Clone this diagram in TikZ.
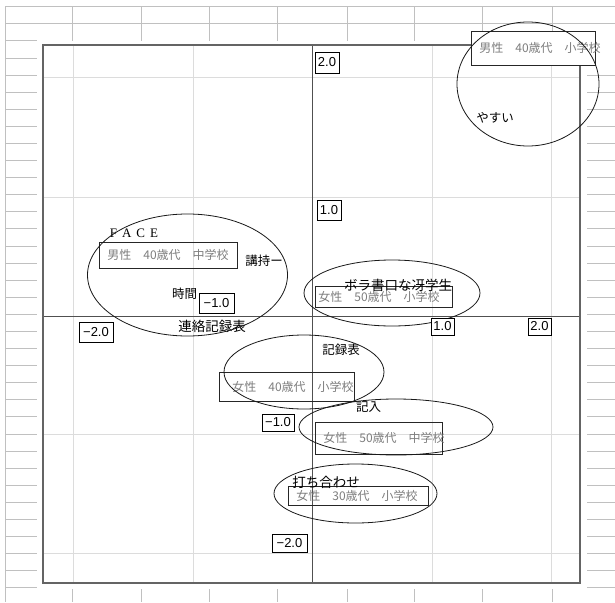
\documentclass[tikz,border=0pt]{standalone}
\usepackage{fontspec}
\setmainfont{Liberation Serif}
\setsansfont{Liberation Sans}
\newfontfamily\jpfont{Noto Sans CJK JP}
\usetikzlibrary{shapes.geometric}
\definecolor{sheetline}{RGB}{192,192,192}
\definecolor{gridline}{RGB}{220,220,220}
\definecolor{frameline}{RGB}{100,100,100}
\definecolor{axisline}{RGB}{80,80,80}
\definecolor{grouptext}{RGB}{125,125,125}
\tikzset{
    cell/.style={draw=sheetline, line width=1pt},
    chartgrid/.style={draw=gridline, line width=1pt},
    chartframe/.style={draw=frameline, line width=1.4pt},
    chartaxis/.style={draw=axisline, line width=1pt},
    groupbox/.style={draw=black!85, line width=0.7pt, text=grouptext, anchor=west,
        align=left, inner xsep=8pt, inner ysep=0pt, font=\jpfont\fontsize{12}{12}\selectfont},
    cluster/.style={ellipse, draw=black!90, line width=0.8pt, inner sep=0pt},
    word/.style={inner sep=0pt, font=\jpfont\fontsize{12.5}{12.5}\selectfont},
    scalebox/.style={draw=black, line width=0.7pt, fill=white, inner sep=0pt,
        font=\sffamily\fontsize{13}{13}\selectfont}
}

\begin{document}
\begin{tikzpicture}[x=1pt, y=-1pt]
    \useasboundingbox (0,0) rectangle (615,602);
    % spreadsheet cells behind the chart
    \draw[cell] (5,7) -- (615,7) (5,24) -- (615,24) (5,7) -- (5,602);
    \foreach \x in {72,141,209,277,347,414,482,552}
        \draw[cell] (\x,7) -- (\x,41) (\x,589) -- (\x,602);
    \foreach \i in {0,...,32}
        \draw[cell] (5,{41+17.09*\i}) -- (37,{41+17.09*\i});
    \foreach \i in {2,...,32}
        \draw[cell] (587,{41+17.09*\i}) -- (615,{41+17.09*\i});

    % plot area
    \foreach \x in {73,193,432,551}
        \draw[chartgrid] (\x,45) -- (\x,583);
    \foreach \y in {77,197,434,553}
        \draw[chartgrid] (43,\y) -- (580,\y);
    \draw[chartaxis] (312,45) -- (312,583) (43,316) -- (580,316);
    \draw[chartframe] (43,45) rectangle (580,583);

    % groups
    \node[groupbox, fill=white, text width=108pt, minimum height=34pt] (m40e) at (471,48) {男性　40歳代　小学校};
    \node[groupbox, text width=122pt, minimum height=26pt] (m40j) at (99,255) {男性　40歳代　中学校};
    \node[groupbox, inner xsep=3pt, text width=131pt, minimum height=21pt] (f50e) at (315,296.5) {女性　50歳代　小学校};
    \node[groupbox, inner xsep=13pt, text width=109pt, minimum height=29pt] (f40e) at (219,386.5) {女性　40歳代　小学校};
    \node[groupbox, text width=111pt, minimum height=32pt] (f50j) at (315,438) {女性　50歳代　中学校};
    \node[groupbox, text width=124pt, minimum height=19pt] (f30e) at (288,496) {女性　30歳代　小学校};

    % words
    \node[inner sep=0pt, font=\fontsize{13}{13}\selectfont] (face) at (134,233) {F\hspace{5pt}A\hspace{5pt}C\hspace{5pt}E};
    \node[word] (yasui) at (495,118) {やすい};
    \node[word] (kouji) at (264,261) {講持ー};
    \node[word] (jikan) at (184.5,294) {時間};
    \node[word, font=\jpfont\fontsize{13.5}{13.5}\selectfont] (renraku) at (212,326) {連絡記録表};
    \node[word, font=\jpfont\fontsize{13.5}{13.5}\selectfont] (bora) at (398,285) {ボラ書口な冴学生};
    \node[word] (kiroku) at (341,350) {記録表};
    \node[word] (kinyu) at (368.5,407) {記入};
    \node[word, font=\jpfont\fontsize{13.5}{13.5}\selectfont] (uchiawase) at (326,482) {打ち合わせ};

    % circled clusters
    \node[cluster, minimum width=142pt, minimum height=124pt] (c1) at (528,84) {};
    \node[cluster, minimum width=200pt, minimum height=122pt] (c2) at (187.5,275) {};
    \node[cluster, minimum width=176pt, minimum height=66pt] (c3) at (392,293) {};
    \node[cluster, minimum width=160pt, minimum height=74pt] (c4) at (304,372) {};
    \node[cluster, minimum width=194pt, minimum height=56pt] (c5) at (396,427) {};
    \node[cluster, minimum width=163pt, minimum height=59pt] (c6) at (355.5,493.5) {};

    % scale values
    \node[scalebox, minimum width=24pt, minimum height=21pt] (yp2) at (327,62.5) {2.0};
    \node[scalebox, minimum width=24pt, minimum height=20pt] (yp1) at (329,210) {1.0};
    \node[scalebox, minimum width=35pt, minimum height=20pt] (xm1) at (216.5,303) {−1.0};
    \node[scalebox, minimum width=34pt, minimum height=20pt] (xm2) at (96,332) {−2.0};
    \node[scalebox, minimum width=23pt, minimum height=17pt] (xp1) at (442.5,326.5) {1.0};
    \node[scalebox, minimum width=23pt, minimum height=17pt] (xp2) at (539.5,326.5) {2.0};
    \node[scalebox, minimum width=32pt, minimum height=17pt] (ym1) at (278,422.5) {−1.0};
    \node[scalebox, minimum width=35pt, minimum height=18pt] (ym2) at (289.5,543) {−2.0};
\end{tikzpicture}
\end{document}
